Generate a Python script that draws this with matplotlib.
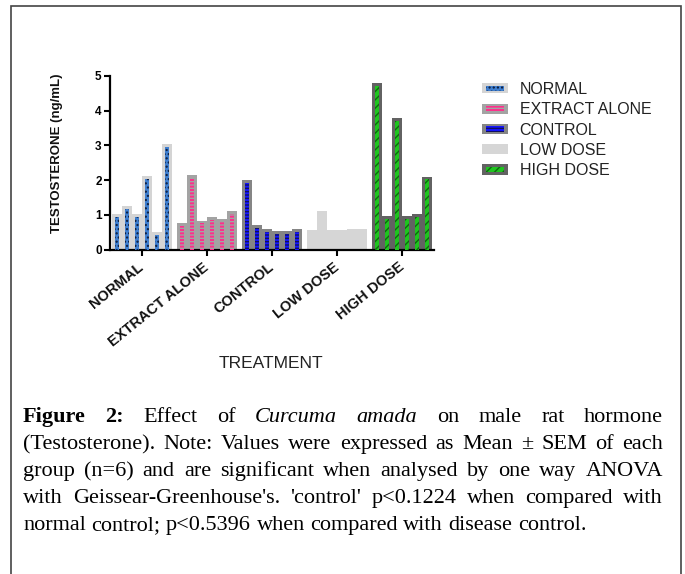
import numpy as np
import matplotlib
matplotlib.use("Agg")
import matplotlib.pyplot as plt
from matplotlib.patches import Rectangle
from matplotlib.legend_handler import HandlerBase

# values (ng/mL), six animals per group
groups = ["NORMAL", "EXTRACT ALONE", "CONTROL", "LOW DOSE", "HIGH DOSE"]
normal = [1.03, 1.26, 1.03, 2.12, 0.51, 3.03]
extract_alone = [0.76, 2.14, 0.83, 0.93, 0.88, 1.10]
control = [2.00, 0.71, 0.58, 0.52, 0.54, 0.58]
low_dose = [0.55, 1.10, 0.55, 0.56, 0.58, 0.58]
high_dose = [4.80, 0.97, 3.79, 0.97, 1.02, 2.10]
series = [normal, extract_alone, control, low_dose, high_dose]

# outer fill, inner fill, hatch, hatch colour
styles = [
    ("#d4d4d4", "#3f7fd0", "....", "#0a1a3a"),
    ("#a3a3a3", "#ff2e8c", "-----", "#a3a3a3"),
    ("#858585", "#1515ff", "-----", "#101060"),
    ("#d6d6d6", None, None, None),
    ("#626262", "#1fc41f", "////", "#0b6b0b"),
]

caption = [
    [("Figure", "bold", "normal"), ("2:", "bold", "normal"), ("Effect", "normal", "normal"),
     ("of", "normal", "normal"), ("Curcuma", "normal", "italic"), ("amada", "normal", "italic"),
     ("on", "normal", "normal"), ("male", "normal", "normal"), ("rat", "normal", "normal"),
     ("hormone", "normal", "normal")],
    "(Testosterone). Note: Values were expressed as Mean ± SEM of each",
    "group (n=6) and are significant when analysed by one way ANOVA",
    "with Geissear-Greenhouse's. 'control' p<0.1224 when compared with",
    "normal control; p<0.5396 when compared with disease control.",
]

plt.rcParams["font.family"] = ["Liberation Sans", "DejaVu Sans"]
plt.rcParams["hatch.linewidth"] = 1.0

W, H = 685, 574
fig = plt.figure(figsize=(W / 100, H / 100), dpi=100)
ax = fig.add_axes([110 / W, 1 - 249.5 / H, 324 / W, 173.5 / H])

bw = 0.154
pad = 0.08
for i, (vals, st) in enumerate(zip(series, styles)):
    outer, inner, hatch, hc = st
    x = i + (np.arange(len(vals)) - 2.5) * bw
    ax.bar(x, vals, width=bw, color=outer, edgecolor="none", zorder=2)
    if inner:
        ax.bar(x, np.array(vals) - pad, width=bw * 0.45, color=inner,
               edgecolor=hc, linewidth=0, hatch=hatch, zorder=3)

ax.set_xlim(-0.49, 4.49)
ax.set_ylim(0, 5)
ax.set_yticks(range(6))
ax.set_xticks(range(len(groups)))
ax.set_xticklabels(groups, rotation=39, ha="right", va="center",
                   rotation_mode="anchor", fontsize=10.5, fontweight="bold", color="#111111")
for lab in ax.get_yticklabels():
    lab.set_fontweight("bold")
ax.tick_params(axis="y", labelsize=8.5, width=1.5, length=4, pad=2)
ax.tick_params(axis="x", width=1.5, length=4.5, pad=7)
for s in ["top", "right"]:
    ax.spines[s].set_visible(False)
for s in ["left", "bottom"]:
    ax.spines[s].set_linewidth(1.6)

fig.text(57 / W, 1 - 153 / H, "TESTOSTERONE (ng/mL)", rotation=90, ha="center", va="center",
         fontsize=9.5, fontweight="bold", color="#111111")
fig.text(271 / W, 1 - 364 / H, "TREATMENT", ha="center", va="center", fontsize=12.5, color="#222222")


class Swatch:
    def __init__(self, spec):
        self.spec = spec


class SwatchHandler(HandlerBase):
    def create_artists(self, legend, orig_handle, xdescent, ydescent, width, height, fontsize, trans):
        outer, inner, hatch, hc = orig_handle.spec
        arts = [Rectangle((-xdescent, -ydescent), width, height, facecolor=outer,
                          edgecolor="none", transform=trans)]
        if inner:
            arts.append(Rectangle((-xdescent + 0.15 * width, -ydescent + 0.22 * height),
                                  0.7 * width, 0.56 * height, facecolor=inner, edgecolor=hc,
                                  linewidth=0, hatch=hatch, transform=trans))
        return arts


handles = [Swatch(s) for s in styles]
fig.legend(handles, groups, handler_map={Swatch: SwatchHandler()}, loc="upper left",
           bbox_to_anchor=(482 / W, 1 - 82 / H), frameon=False, fontsize=11.5,
           borderpad=0, borderaxespad=0, handlelength=1.6, handleheight=0.6,
           handletextpad=0.75, labelspacing=0.33, labelcolor="#222222")

# caption, justified like the journal layout
fig.add_artist(Rectangle((11 / W, -0.02), 670 / W, 1.02 - 6 / H, transform=fig.transFigure,
                         fill=False, edgecolor="#444444", linewidth=1.2))

cap_size = 16
left, right = 23, 663
baselines = [422, 449, 476, 503, 530]
renderer = fig.canvas.get_renderer()
for k, line in enumerate(caption):
    if isinstance(line, str):
        line = [(w, "normal", "normal") for w in line.split(" ")]
    texts = [fig.text(0, 1 - baselines[k] / H, w, fontsize=cap_size, family="Liberation Serif",
                      fontweight=wt, fontstyle=sty, va="baseline", ha="left", color="black")
             for w, wt, sty in line]
    widths = [t.get_window_extent(renderer).width for t in texts]
    space = cap_size * 0.25 * 100 / 72
    if k < len(caption) - 1:
        gap = max((right - left - sum(widths)) / (len(texts) - 1), space * 0.6)
    else:
        gap = space
    x = left
    for t, w in zip(texts, widths):
        t.set_x(x / W)
        x += w + gap

fig.savefig("out.png", dpi=100)
